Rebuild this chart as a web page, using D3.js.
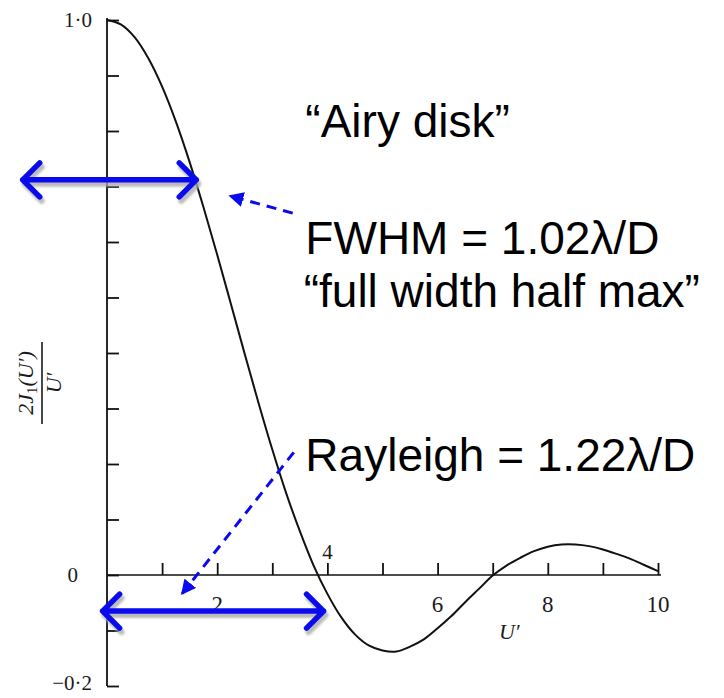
<!DOCTYPE html>
<html><head><meta charset="utf-8">
<script src="https://cdn.jsdelivr.net/npm/d3@7"></script>
<style>html,body{margin:0;padding:0;background:#fff;}svg{display:block;}</style>
</head><body>
<script>
// ---- data ----
const uValues = [0,0.25,0.5,0.75,1,1.25,1.5,1.75,2,2.25,2.5,2.75,3,3.25,3.5,3.75,4,4.25,4.5,4.75,5,5.25,5.5,5.75,6,6.25,6.5,6.75,7,7.25,7.5,7.75,8,8.25,8.5,8.75,9,9.25,9.5,9.75,10];
const intensity = [1.0,0.992,0.969,0.931,0.880,0.817,0.744,0.663,0.577,0.488,0.398,0.310,0.226,0.148,0.079,0.017,-0.034,-0.076,-0.107,-0.127,-0.136,-0.138,-0.129,-0.116,-0.096,-0.074,-0.049,-0.025,-0.001,0.017,0.031,0.043,0.051,0.055,0.055,0.052,0.046,0.038,0.029,0.018,0.007];
const xTicks = [1,2,3,4,5,6,7,8,9,10];
const xTickLabels = ["2","6","8","10"];
const xTickLabelValues = [2,6,8,10];
const yTicks = [-0.2,-0.1,0,0.1,0.2,0.3,0.4,0.5,0.6,0.7,0.8,0.9,1.0];
const yTickLabels = ["1·0","0","−0·2"];
const yTickLabelValues = [1.0,0,-0.2];
// annotation anchors in data units
const fwhmArrow = {x1:-1.53, x2:1.62, y:0.712};
const rayleighArrow = {x1:-0.08, x2:3.93, y:-0.065};
const fwhmPointer = {x1:3.37, y1:0.652, x2:2.23, y2:0.683};
const rayleighPointer = {x1:3.39, y1:0.221, x2:1.36, y2:-0.034};
const notes = [
  {text:"“Airy disk”", u:3.6, v:0.79},
  {text:"FWHM = 1.02λ/D", u:3.6, v:0.579},
  {text:"“full width half max”", u:3.57, v:0.482},
  {text:"Rayleigh = 1.22λ/D", u:3.6, v:0.188}
];

const W = 724, H = 698;
const svg = d3.select("body").append("svg").attr("width", W).attr("height", H);
const x = d3.scaleLinear().domain([0,10]).range([107,658]);
const y = d3.scaleLinear().domain([-0.2,1.0]).range([686,20]);

const defs = svg.append("defs");
defs.append("filter").attr("id","sh").attr("x","-10%").attr("y","-50%").attr("width","120%").attr("height","200%")
  .append("feGaussianBlur").attr("stdDeviation",1.2);
defs.append("marker").attr("id","tri").attr("viewBox","0 0 10 10").attr("refX",9).attr("refY",5)
  .attr("markerWidth",5).attr("markerHeight",5).attr("orient","auto")
  .append("path").attr("d","M0,0 L10,5 L0,10 Z").attr("fill","#0a0aef");

const serif = "'Liberation Serif','DejaVu Serif',serif";
const sans = "'Liberation Sans',Arial,sans-serif";

// Y axis
const yAxis = d3.axisRight(y).tickValues(yTicks).tickSize(12).tickFormat("");
const gy = svg.append("g").attr("transform",`translate(${x(0)},0)`).call(yAxis);
gy.select(".domain").attr("d",`M0,${y(1.0)-2}V${y(-0.2)}`).attr("stroke","#111").attr("stroke-width",1.8);
gy.selectAll(".tick line").attr("stroke","#111").attr("stroke-width",1.8);

// X axis
const xAxis = d3.axisTop(x).tickValues(xTicks).tickSize(12).tickFormat("");
const gx = svg.append("g").attr("transform",`translate(0,${y(0)})`).call(xAxis);
gx.select(".domain").attr("d",`M${x(0)},0H${x(10)+3}`).attr("stroke","#111").attr("stroke-width",1.5);
gx.selectAll(".tick line").attr("stroke","#111").attr("stroke-width",1.8);

// tick labels
svg.append("g").selectAll("text").data(xTickLabelValues).join("text")
  .attr("x",d=>x(d)).attr("y",y(0)+37).attr("text-anchor","middle")
  .attr("font-family",serif).attr("font-size",23).attr("fill","#1a1a1a")
  .text((d,i)=>xTickLabels[i]);
svg.append("text").attr("x",x(4)).attr("y",y(0)-16).attr("text-anchor","middle")
  .attr("font-family",serif).attr("font-size",21).attr("fill","#1a1a1a").text("4");
svg.append("g").selectAll("text").data(yTickLabelValues).join("text")
  .attr("x",(d,i)=>i===1?78:92).attr("y",(d,i)=>i===2?y(d)+4:y(d)+7).attr("text-anchor","end")
  .attr("font-family",serif).attr("font-size",21).attr("fill","#1a1a1a")
  .text((d,i)=>yTickLabels[i]);

// axis titles
svg.append("text").attr("x",x(7.3)).attr("y",y(0)+64).attr("text-anchor","middle")
  .attr("font-family",serif).attr("font-style","italic").attr("font-size",22).attr("fill","#1a1a1a").text("U′");
const yl = svg.append("g").attr("transform","translate(42,383) rotate(-90)");
yl.append("text").attr("x",0).attr("y",-9).attr("text-anchor","middle")
  .attr("font-family",serif).attr("font-style","italic").attr("font-size",22).attr("fill","#1a1a1a")
  .html('2J<tspan font-size="15" dy="4" font-style="normal">1</tspan><tspan dy="-4">(U′)</tspan>');
yl.append("line").attr("x1",-41).attr("x2",41).attr("y1",0).attr("y2",0).attr("stroke","#1a1a1a").attr("stroke-width",1.6);
yl.append("text").attr("x",0).attr("y",19).attr("text-anchor","middle")
  .attr("font-family",serif).attr("font-style","italic").attr("font-size",22).attr("fill","#1a1a1a").text("U′");

// curve
const pts = uValues.map((u,i)=>[u,intensity[i]]);
svg.append("path").datum(pts)
  .attr("d",d3.line().x(d=>x(d[0])).y(d=>y(d[1])).curve(d3.curveCatmullRom))
  .attr("fill","none").attr("stroke","#111").attr("stroke-width",2);

// double-headed blue arrows with shadow
function dblArrow(a){
  const x1=x(a.x1), x2=x(a.x2), yy=y(a.y), h=17;
  const d = `M${x1},${yy}H${x2} M${x1+h},${yy-h}L${x1},${yy}L${x1+h},${yy+h} M${x2-h},${yy-h}L${x2},${yy}L${x2-h},${yy+h}`;
  svg.append("path").attr("d",d).attr("transform","translate(2,4)").attr("fill","none")
    .attr("stroke","#aaa").attr("stroke-width",6).attr("stroke-linecap","round").attr("stroke-linejoin","round")
    .attr("filter","url(#sh)").attr("opacity",0.8);
  svg.append("path").attr("d",d).attr("fill","none")
    .attr("stroke","#0a0aef").attr("stroke-width",5.5).attr("stroke-linecap","round").attr("stroke-linejoin","round");
}
dblArrow(fwhmArrow);
dblArrow(rayleighArrow);

// dashed pointers
[fwhmPointer, rayleighPointer].forEach(p=>{
  svg.append("line").attr("x1",x(p.x1)).attr("y1",y(p.y1)).attr("x2",x(p.x2)).attr("y2",y(p.y2))
    .attr("stroke","#0a0aef").attr("stroke-width",3).attr("stroke-dasharray","10,7")
    .attr("marker-end","url(#tri)");
});

// annotations
svg.append("g").selectAll("text").data(notes).join("text")
  .attr("x",d=>x(d.u)).attr("y",d=>y(d.v))
  .attr("font-family",sans).attr("font-size",46).attr("fill","#000")
  .text(d=>d.text);
</script>
</body></html>
